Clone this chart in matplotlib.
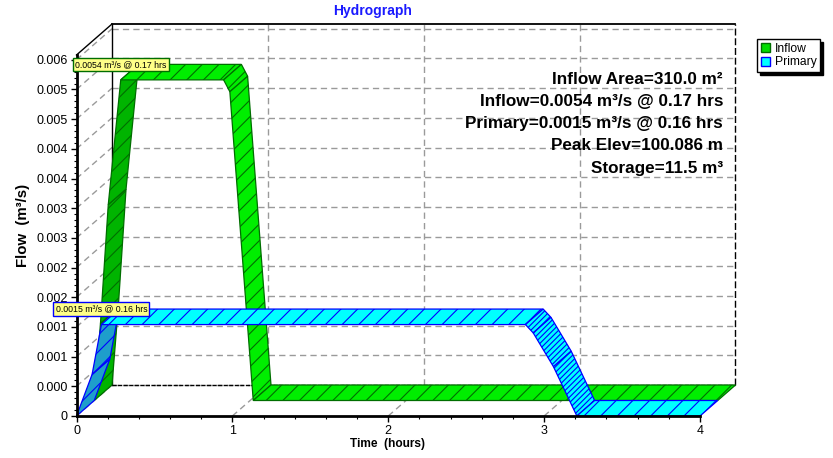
import matplotlib
matplotlib.use('Agg')
import matplotlib.pyplot as plt
from matplotlib.patches import Polygon, Patch
from matplotlib.ticker import MultipleLocator, FixedLocator

plt.rcParams['font.family'] = ['Liberation Sans', 'DejaVu Sans']
plt.rcParams['hatch.linewidth'] = 0.8

# ---------------- data ----------------
inflow_t = [0.0, 0.04, 0.09, 0.17, 0.83, 0.87, 1.02, 4.0]
inflow_q = [0.0, 0.0013, 0.0033, 0.0054, 0.0054, 0.0052, 0.0, 0.0]
primary_t = [0.0, 0.10, 0.16, 2.88, 2.93, 3.06, 3.21, 4.0]
primary_q = [0.0, 0.0007, 0.00154, 0.00154, 0.0014, 0.00083, 0.0, 0.0]

series_names = ['Inflow', 'Primary']
peak_t = [0.17, 0.16]
peak_q = [0.0054, 0.00154]
peak_labels = ['0.0054 m³/s @ 0.17 hrs', '0.0015 m³/s @ 0.16 hrs']

ytick_vals = [0, 0.0005, 0.001, 0.0015, 0.002, 0.0025, 0.003,
              0.0035, 0.004, 0.0045, 0.005, 0.0055, 0.006]
ytick_labels = ['0', '0.000', '0.001', '0.001', '0.002', '0.002', '0.003',
                '0.003', '0.004', '0.004', '0.005', '0.005', '0.006']
xtick_vals = [0, 1, 2, 3, 4]
xtick_labels = ['0', '1', '2', '3', '4']

info_lines = ['Inflow Area=310.0 m²',
              'Inflow=0.0054 m³/s @ 0.17 hrs',
              'Primary=0.0015 m³/s @ 0.16 hrs',
              'Peak Elev=100.086 m',
              'Storage=11.5 m³']

# ---------------- styles ----------------
XMAX, YMAX = 4.0, 0.00608
bright = ['#00EE00', '#00FFFF']
dark = ['#00B400', '#1E9ECB']
edge = ['#006E00', '#0000FF']
depths = [(0.5, 1.0), (0.0, 0.5)]
fall_hatch = ['//', '//////']

W, H = 833, 458
fig = plt.figure(figsize=(W / 100, H / 100), dpi=100)
ax = fig.add_axes([76.5 / W, 42 / H, (700 - 76.5) / W, (416 - 55) / H])
ax.set_xlim(0, XMAX)
ax.set_ylim(0, YMAX)

bbox = ax.get_window_extent()
sx = bbox.width / XMAX
sy = bbox.height / YMAX
DX = 35.5 / sx
DY = 31.0 / sy

# ---------------- 3D box (back wall, side, floor) ----------------
gkw = dict(color='#9a9a9a', lw=1.0, ls=(0, (4.5, 3)), clip_on=False, zorder=1)
for yv in ytick_vals:
    ax.plot([DX, XMAX + DX], [yv + DY, yv + DY], **gkw)
    ax.plot([0, DX], [yv, yv + DY], **gkw)
for xv in xtick_vals[1:-1]:
    ax.plot([xv + DX, xv + DX], [DY, YMAX + DY], **gkw)
    ax.plot([xv, xv + DX], [0, DY], **gkw)

bkw = dict(color='black', lw=1.0, clip_on=False, zorder=1.5)
ax.plot([DX, DX], [DY, YMAX + DY], **bkw)
ax.plot([DX, XMAX + DX], [YMAX + DY, YMAX + DY], lw=1.3, color='black', clip_on=False, zorder=1.5)
ax.plot([0, DX], [YMAX, YMAX + DY], **bkw)
ax.plot([XMAX + DX, XMAX + DX], [DY, YMAX + DY], color='black', lw=1.0,
        ls=(0, (5, 2)), clip_on=False, zorder=1.5)
ax.plot([DX, XMAX + DX], [DY, DY], color='black', lw=1.0,
        ls=(0, (3, 1)), clip_on=False, zorder=1.5)

# ---------------- ribbons ----------------
all_t = [inflow_t, primary_t]
all_q = [inflow_q, primary_q]
for k in range(2):
    t, q = all_t[k], all_q[k]
    d0, d1 = depths[k]
    for i in range(len(t) - 1):
        rising = q[i + 1] > q[i]
        falling = q[i + 1] < q[i]
        verts = [(t[i] + d0 * DX, q[i] + d0 * DY),
                 (t[i + 1] + d0 * DX, q[i + 1] + d0 * DY),
                 (t[i + 1] + d1 * DX, q[i + 1] + d1 * DY),
                 (t[i] + d1 * DX, q[i] + d1 * DY)]
        poly = Polygon(verts, closed=True,
                       facecolor=dark[k] if rising else bright[k],
                       edgecolor=edge[k], lw=0.9,
                       hatch=fall_hatch[k] if falling else '//',
                       clip_on=False, zorder=3 + k)
        ax.add_patch(poly)
    # peak label
    ax.text(peak_t[k] + d0 * DX, peak_q[k] + d1 * DY, peak_labels[k],
            ha='center', va='center', fontsize=6.3, zorder=10, clip_on=False,
            bbox=dict(boxstyle='square,pad=0.25', fc='#FFFF88', ec=edge[k], lw=1.0))

# ---------------- axes / ticks ----------------
for s in ['top', 'right']:
    ax.spines[s].set_visible(False)
for s in ['left', 'bottom']:
    ax.spines[s].set_linewidth(2.0)
    ax.spines[s].set_zorder(6)
ax.yaxis.set_major_locator(FixedLocator(ytick_vals))
ax.set_yticklabels(ytick_labels)
ax.yaxis.set_minor_locator(MultipleLocator(0.0001))
ax.xaxis.set_major_locator(FixedLocator(xtick_vals))
ax.set_xticklabels(xtick_labels)
ax.xaxis.set_minor_locator(MultipleLocator(0.2))
ax.tick_params(which='major', direction='out', length=4.5, width=1.0,
               labelsize=9, pad=2)
ax.tick_params(which='minor', direction='out', length=2.5, width=0.8)
ax.patch.set_alpha(0)

# ---------------- texts ----------------
fig.text(373 / W, 1 - 11 / H, 'Hydrograph', color='#1a1aff', fontsize=10,
         fontweight='bold', ha='center', va='center')
fig.text(23 / W, 1 - 225 / H, 'Flow  (m³/s)', rotation=90, fontsize=10.8,
         fontweight='bold', ha='center', va='center')
fig.text(387.5 / W, 1 - 444 / H, 'Time  (hours)', fontsize=8.6,
         fontweight='bold', ha='center', va='center')

for j, line in enumerate(info_lines):
    fig.text(723 / W, 1 - (79 + 22.3 * j) / H, line, fontsize=12.3,
             fontweight='bold', ha='right', va='center')

handles = [Patch(facecolor=bright[k] if k == 1 else '#00DD00', edgecolor=edge[k], lw=1.0)
           for k in range(2)]
leg = fig.legend(handles, series_names, loc='upper left',
                 bbox_to_anchor=(757 / W, 1 - 39 / H), fontsize=8.7,
                 frameon=True, fancybox=False, shadow={'color': 'black', 'alpha': 1},
                 handlelength=0.75, handleheight=0.75, handletextpad=0.4,
                 borderpad=0.3, labelspacing=0.15, borderaxespad=0)
leg.get_frame().set_edgecolor('black')
leg.get_frame().set_linewidth(1.0)

fig.savefig('out.png', dpi=100)
